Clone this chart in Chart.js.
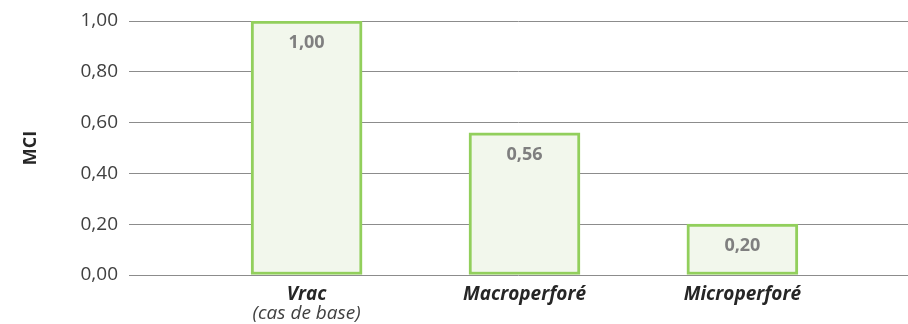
<!DOCTYPE html>
<html>
<head>
<meta charset="utf-8">
<script src="https://cdn.jsdelivr.net/npm/chart.js@4"></script>
<style>
  html, body { margin: 0; padding: 0; background: #ffffff; }
  #wrap { width: 908px; height: 324px; position: relative; }
</style>
</head>
<body>
<div id="wrap"><canvas id="c"></canvas></div>
<script>
// Emballages comparés et indice MCI
const categories = ['Vrac', 'Macroperforé', 'Microperforé'];
const subLabels = ['(cas de base)', '', ''];
const mciValues = [1.00, 0.56, 0.20];
const yTicks = [0, 0.2, 0.4, 0.6, 0.8, 1.0];

const FONT = "'Open Sans', sans-serif";
const fmt = v => v.toFixed(2).replace('.', ',');

// Valeur écrite en haut de chaque barre
const valueLabels = {
  id: 'valueLabels',
  afterDatasetsDraw(chart) {
    const ctx = chart.ctx;
    const meta = chart.getDatasetMeta(0);
    ctx.save();
    ctx.font = "bold 18px " + FONT;
    ctx.fillStyle = '#7f7f7f';
    ctx.textAlign = 'center';
    ctx.textBaseline = 'middle';
    meta.data.forEach((bar, i) => {
      ctx.fillText(fmt(mciValues[i]), bar.x, bar.y + 22);
    });
    ctx.restore();
  }
};

// Libellés des catégories sous l'axe horizontal
const categoryLabels = {
  id: 'categoryLabels',
  afterDraw(chart) {
    const ctx = chart.ctx;
    const xs = chart.scales.x;
    const base = chart.chartArea.bottom;
    ctx.save();
    ctx.textAlign = 'center';
    ctx.textBaseline = 'middle';
    categories.forEach((name, i) => {
      const x = xs.getPixelForValue(i);
      ctx.fillStyle = '#262626';
      ctx.font = "italic bold 19px " + FONT;
      ctx.fillText(name, x, base + 20);
      if (subLabels[i]) {
        ctx.fillStyle = '#404040';
        ctx.font = "italic 19px " + FONT;
        ctx.fillText(subLabels[i], x, base + 39);
      }
    });
    ctx.restore();
  }
};

new Chart(document.getElementById('c'), {
  type: 'bar',
  data: {
    datasets: [{
      data: mciValues.map((v, i) => ({ x: i, y: v })),
      backgroundColor: '#f2f7ec',
      borderColor: '#92cf5c',
      borderWidth: 3,
      borderSkipped: false,
      barThickness: 111
    }]
  },
  options: {
    responsive: true,
    maintainAspectRatio: false,
    animation: false,
    layout: { padding: { top: 21, right: 0, bottom: 0, left: 0 } },
    plugins: { legend: { display: false }, tooltip: { enabled: false } },
    scales: {
      x: {
        type: 'linear',
        offset: false,
        min: -0.815,
        max: 2.76,
        grid: { display: false },
        border: { display: false },
        ticks: { display: false },
        afterFit(scale) { scale.height = 49; }
      },
      y: {
        min: 0,
        max: 1,
        afterBuildTicks(scale) { scale.ticks = yTicks.map(v => ({ value: v })); },
        grid: { color: '#8c8c8c', lineWidth: 1, drawTicks: false },
        border: { display: false },
        ticks: {
          padding: 11,
          color: '#404040',
          font: { family: FONT, size: 19, lineHeight: 1 },
          callback: v => fmt(v)
        },
        title: {
          display: true,
          text: 'MCI',
          color: '#262626',
          font: { family: FONT, size: 18, weight: 'bold' },
          padding: { top: 20, bottom: 0 }
        },
        afterFit(scale) { scale.width = 129; }
      }
    }
  },
  plugins: [valueLabels, categoryLabels]
});
</script>
</body>
</html>
